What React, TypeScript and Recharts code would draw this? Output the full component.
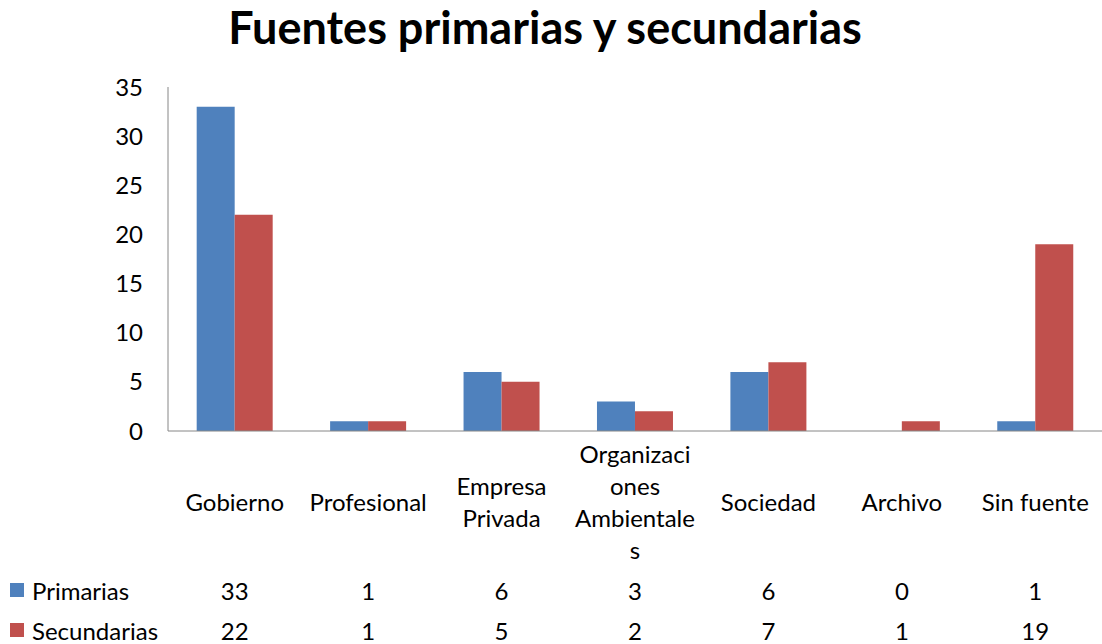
import { BarChart, Bar, XAxis, YAxis } from 'recharts'

const categories = [
  'Gobierno',
  'Profesional',
  'Empresa\nPrivada',
  'Organizaci\nones\nAmbientale\ns',
  'Sociedad',
  'Archivo',
  'Sin fuente',
]
const primarias = [33, 1, 6, 3, 6, 0, 1]
const secundarias = [22, 1, 5, 2, 7, 1, 19]
const yTicks = [0, 5, 10, 15, 20, 25, 30, 35]

const BLUE = '#4F81BD'
const RED = '#C0504D'
const FONT = 'Lato, "Open Sans", sans-serif'

const data = categories.map((c, i) => ({ cat: c, primarias: primarias[i], secundarias: secundarias[i] }))

// category label plus the two data-table cells under it
function CategoryTick(props: any) {
  const { x, y, payload, index } = props
  const lines = String(payload.value).split('\n')
  const lh = 32
  const first = y + 70 - ((lines.length - 1) * lh) / 2
  return (
    <g fontFamily={FONT} fontSize={24} fill="#000" textAnchor="middle">
      {lines.map((l, i) => (
        <text key={i} x={x} y={first + i * lh} dominantBaseline="central">
          {l}
        </text>
      ))}
      <text x={x} y={y + 159} dominantBaseline="central">{primarias[index]}</text>
      <text x={x} y={y + 199} dominantBaseline="central">{secundarias[index]}</text>
    </g>
  )
}

const legendRows = [
  { name: 'Primarias', color: BLUE },
  { name: 'Secundarias', color: RED },
]

export default function App() {
  return (
    <div style={{ position: 'absolute', left: 0, top: 0, width: 1102, height: 644, background: '#fff' }}>
      <div
        style={{
          position: 'absolute',
          left: 0,
          top: 0,
          width: 1090,
          textAlign: 'center',
          fontFamily: FONT,
          fontWeight: 700,
          fontSize: 45,
          color: '#000',
        }}
      >
        Fuentes primarias y secundarias
      </div>
      <div style={{ position: 'absolute', left: 0, top: 570, fontFamily: FONT, fontSize: 24, color: '#000' }}>
        {legendRows.map((r) => (
          <div key={r.name} style={{ display: 'flex', alignItems: 'center', height: 40 }}>
            <span style={{ width: 14, height: 14, background: r.color, marginLeft: 10, marginRight: 8 }} />
            {r.name}
          </div>
        ))}
      </div>
      <BarChart
        width={1102}
        height={644}
        data={data}
        margin={{ top: 87, right: 0, bottom: 0, left: 0 }}
        barGap={0}
        barCategoryGap="21.5%"
      >
        <YAxis
          width={168}
          domain={[0, 35]}
          ticks={yTicks}
          tickLine={false}
          tickSize={0}
          tickMargin={25}
          axisLine={{ stroke: '#868686' }}
          tick={{ fontFamily: FONT, fontSize: 24, fill: '#000' }}
        />
        <XAxis
          dataKey="cat"
          height={213}
          tickLine={false}
          tickSize={0}
          tickMargin={0}
          interval={0}
          axisLine={{ stroke: '#868686' }}
          tick={<CategoryTick />}
        />
        <Bar dataKey="primarias" name="Primarias" fill={BLUE} isAnimationActive={false} />
        <Bar dataKey="secundarias" name="Secundarias" fill={RED} isAnimationActive={false} />
      </BarChart>
    </div>
  )
}
